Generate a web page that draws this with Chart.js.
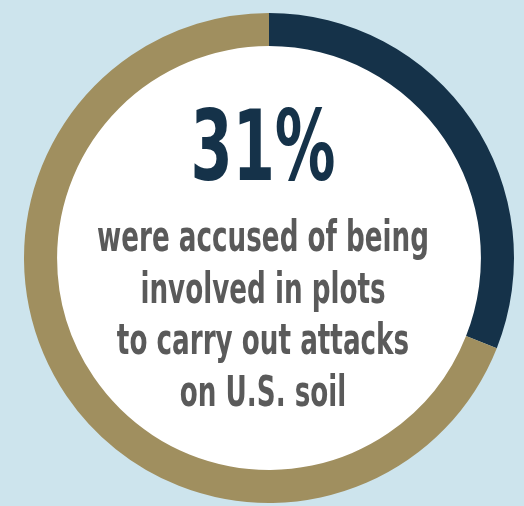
<!DOCTYPE html>
<html lang="en">
<head>
    <meta charset="UTF-8">
    <title>31% accused of plots</title>
    <script src="https://cdn.jsdelivr.net/npm/chart.js"></script>
    <style>
        html, body { margin: 0; padding: 0; background: #cde4ed; overflow: hidden; }
        canvas { display: block; }
    </style>
</head>
<body>
    <canvas id="grafico" width="524" height="506"></canvas>

    <script>
        // Data
        const categories = ['Accused of plots to carry out attacks on U.S. soil', 'Other'];
        const values = [31, 69];
        const colors = ['#153249', '#a08f5f'];
        const captionLines = ['were accused of being', 'involved in plots', 'to carry out attacks', 'on U.S. soil'];

        const narrowFont = '"Liberation Sans Narrow", "DejaVu Sans Condensed", "Liberation Sans", sans-serif';

        // Draws a text line squeezed horizontally by scaleX, centred on x
        function drawSqueezed(ctx, text, x, y, scaleX) {
            ctx.save();
            ctx.translate(x, y);
            ctx.scale(scaleX, 1);
            ctx.fillText(text, 0, 0);
            ctx.restore();
        }

        const centerText = {
            id: 'centerText',
            beforeDatasetsDraw(chart) {
                const arc = chart.getDatasetMeta(0).data[0];
                const ctx = chart.ctx;
                ctx.save();
                ctx.fillStyle = '#ffffff';
                ctx.beginPath();
                ctx.arc(arc.x, arc.y, arc.innerRadius + 1, 0, Math.PI * 2);
                ctx.fill();
                ctx.restore();
            },
            afterDraw(chart) {
                const arc = chart.getDatasetMeta(0).data[0];
                const ctx = chart.ctx;
                const cx = arc.x;
                ctx.save();
                ctx.textAlign = 'center';
                ctx.textBaseline = 'alphabetic';

                // big percentage
                const pct = Math.round(values[0] / values.reduce((a, b) => a + b, 0) * 100) + '%';
                ctx.font = 'bold 98px ' + narrowFont;
                ctx.fillStyle = '#153249';
                const wBig = ctx.measureText(pct).width;
                drawSqueezed(ctx, pct, cx - 6, 180, 145 / wBig);

                // caption
                ctx.font = 'bold 43px ' + narrowFont;
                ctx.fillStyle = '#5a5a5a';
                const w1 = ctx.measureText(captionLines[0]).width;
                const sx = 332 / w1;
                captionLines.forEach((line, i) => {
                    drawSqueezed(ctx, line, cx - 6, 251 + i * 51.7, sx);
                });
                ctx.restore();
            }
        };

        const ctx = document.getElementById('grafico').getContext('2d');
        const chart = new Chart(ctx, {
            type: 'doughnut',
            data: {
                labels: categories,
                datasets: [{
                    data: values,
                    backgroundColor: colors,
                    borderWidth: 0,
                    hoverOffset: 0
                }]
            },
            options: {
                responsive: false,
                animation: false,
                cutout: '86.5%',
                layout: { padding: { left: 24, right: 10, top: 13, bottom: 3 } },
                plugins: {
                    legend: { display: false },
                    tooltip: { enabled: false }
                }
            },
            plugins: [centerText]
        });
    </script>
</body>
</html>
